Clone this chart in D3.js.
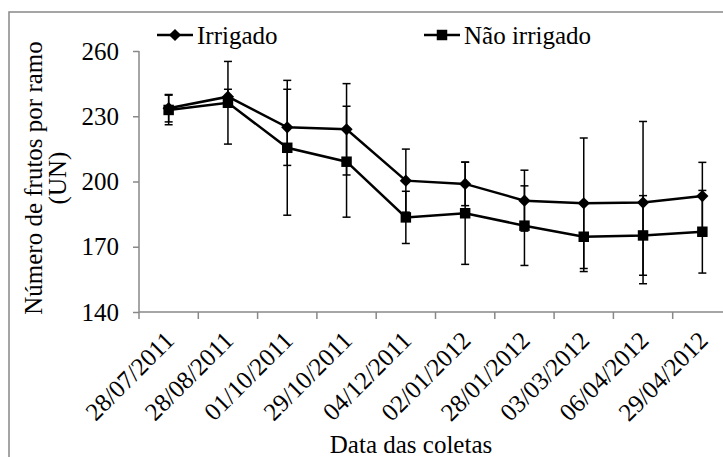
<!DOCTYPE html>
<html>
<head>
<meta charset="utf-8">
<script src="https://cdn.jsdelivr.net/npm/d3@7"></script>
<style>
  body { margin: 0; background: #fff; }
  svg { display: block; }
  .axis path, .axis line { stroke: #888; stroke-width: 1.5; }
</style>
</head>
<body>
<svg width="723" height="457"></svg>
<script>
// **** data ****
var dates = ["28/07/2011", "28/08/2011", "01/10/2011", "29/10/2011", "04/12/2011",
             "02/01/2012", "28/01/2012", "03/03/2012", "06/04/2012", "29/04/2012"];
var irrigado    = [233.7, 239.0, 224.9, 224.0, 200.4, 198.9, 191.2, 190.0, 190.3, 193.3];
var irrigadoErr = [6.3, 3.4, 17.5, 21.0, 14.5, 10.0, 14.0, 30.0, 37.3, 15.5];
var naoIrrigado = [232.9, 236.2, 215.5, 209.1, 183.5, 185.4, 179.7, 174.6, 175.2, 176.9];
var naoErr      = [6.8, 19.0, 31.0, 25.5, 12.0, 23.5, 18.3, 16.0, 18.3, 19.0];
var yTicks = [140, 170, 200, 230, 260];

var FONT = "'Liberation Serif', 'Times New Roman', Times, 'Noto Serif', 'DejaVu Serif', serif";

var svg = d3.select('svg');

// outer chart border (right and bottom fall outside the picture)
svg.append('rect')
    .attr('x', 9).attr('y', 12)
    .attr('width', 760).attr('height', 500)
    .attr('fill', 'none').attr('stroke', '#888').attr('stroke-width', 1.5);

// **** scales ****
var xScale = d3.scaleBand().domain(dates).range([139, 732]);
var yScale = d3.scaleLinear().domain([140, 260]).range([312, 51]);

function cx(i) { return xScale(dates[i]) + xScale.bandwidth() / 2; }

// **** axes ****
svg.append('g').attr('class', 'y axis')
    .attr('transform', 'translate(139,0)')
    .call(d3.axisLeft(yScale).tickValues(yTicks).tickSize(6).tickPadding(14).tickSizeOuter(0))
    .call(function(g) {
        g.select('.domain').attr('d', 'M0,' + yScale(260) + 'V' + yScale(140));
    });

var xAxis = svg.append('g').attr('class', 'x axis')
    .attr('transform', 'translate(0,312)');
xAxis.append('line')
    .attr('x1', 139).attr('x2', 732).attr('y1', 0).attr('y2', 0);
xAxis.selectAll('line.tick')
    .data(dates)
    .enter()
    .append('line')
    .attr('class', 'tick')
    .attr('x1', function(d) { return xScale(d); })
    .attr('x2', function(d) { return xScale(d); })
    .attr('y1', 0).attr('y2', 7);
xAxis.selectAll('text')
    .data(dates)
    .enter()
    .append('text')
    .attr('text-anchor', 'end')
    .attr('transform', function(d) {
        return 'translate(' + (xScale(d) + xScale.bandwidth() / 2 + 7) + ',30) rotate(-45)';
    })
    .text(function(d) { return d; });

// axis titles
svg.append('text')
    .attr('transform', 'translate(42,178) rotate(-90)')
    .attr('text-anchor', 'middle')
    .text('Número de frutos por ramo');
svg.append('text')
    .attr('transform', 'translate(66,178) rotate(-90)')
    .attr('text-anchor', 'middle')
    .text('(UN)');
svg.append('text')
    .attr('x', 411).attr('y', 453)
    .attr('text-anchor', 'middle')
    .text('Data das coletas');

// **** series ****
var line = d3.line()
    .x(function(d, i) { return cx(i); })
    .y(function(d) { return yScale(d); });

function drawErrors(values, errs) {
    var g = svg.append('g').attr('stroke', '#000').attr('stroke-width', 1.5);
    values.forEach(function(v, i) {
        var x = cx(i), y1 = yScale(v + errs[i]), y2 = yScale(v - errs[i]);
        g.append('line').attr('x1', x).attr('x2', x).attr('y1', y1).attr('y2', y2);
        g.append('line').attr('x1', x - 4).attr('x2', x + 4).attr('y1', y1).attr('y2', y1);
        g.append('line').attr('x1', x - 4).attr('x2', x + 4).attr('y1', y2).attr('y2', y2);
    });
}

drawErrors(irrigado, irrigadoErr);
drawErrors(naoIrrigado, naoErr);

svg.append('path').datum(irrigado)
    .attr('d', line).attr('fill', 'none').attr('stroke', '#000').attr('stroke-width', 2.5);
svg.append('path').datum(naoIrrigado)
    .attr('d', line).attr('fill', 'none').attr('stroke', '#000').attr('stroke-width', 2.5);

var diamond = d3.symbol().type(d3.symbolDiamond2).size(95);
var square = d3.symbol().type(d3.symbolSquare).size(110);

svg.selectAll('path.irr')
    .data(irrigado)
    .enter()
    .append('path')
    .attr('class', 'irr')
    .attr('d', diamond)
    .attr('transform', function(d, i) { return 'translate(' + cx(i) + ',' + yScale(d) + ')'; })
    .attr('fill', '#000');

svg.selectAll('path.nao')
    .data(naoIrrigado)
    .enter()
    .append('path')
    .attr('class', 'nao')
    .attr('d', square)
    .attr('transform', function(d, i) { return 'translate(' + cx(i) + ',' + yScale(d) + ')'; })
    .attr('fill', '#000');

// **** legend ****
var legend = [
    {label: 'Irrigado', x: 157, sym: diamond},
    {label: 'Não irrigado', x: 424, sym: square}
];
legend.forEach(function(l) {
    svg.append('line')
        .attr('x1', l.x).attr('x2', l.x + 36).attr('y1', 35).attr('y2', 35)
        .attr('stroke', '#000').attr('stroke-width', 2.5);
    svg.append('path')
        .attr('d', l.sym)
        .attr('transform', 'translate(' + (l.x + 18) + ',35)')
        .attr('fill', '#000');
    svg.append('text')
        .attr('x', l.x + 40).attr('y', 44)
        .text(l.label);
});

// same serif face and size on every text
svg.selectAll('text')
    .style('font-family', FONT)
    .style('font-size', '25px')
    .attr('fill', '#000');
</script>
</body>
</html>
